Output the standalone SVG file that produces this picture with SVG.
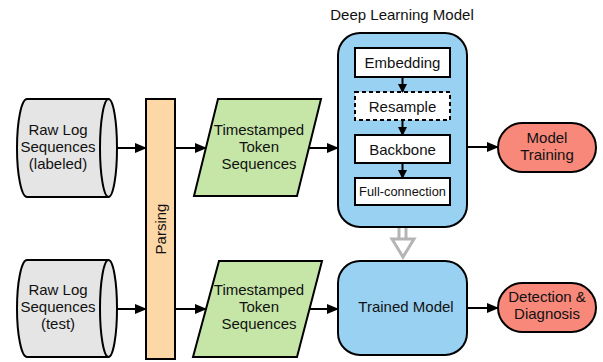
<svg xmlns="http://www.w3.org/2000/svg" width="603" height="362" viewBox="0 0 603 362">
<style>
text{font-family:"Liberation Sans",Arial,sans-serif;font-size:15px;fill:#111;text-anchor:middle}
.s{stroke:#000;stroke-width:2}
.cyl{fill:#e5e5e5}
.par{fill:#c6e6a8}
.blue{fill:#99d1f3}
.red{fill:#f8887a}
.w{fill:#fff}
.c{fill:none;stroke:#000;stroke-width:2}
</style>
<defs>
<marker id="ah" markerWidth="12" markerHeight="10" refX="11" refY="5" orient="auto" markerUnits="userSpaceOnUse">
<path d="M0,0 L12,5 L0,10 Z" fill="#000"/>
</marker>
<marker id="ahs" markerWidth="9" markerHeight="9" refX="8" refY="4.5" orient="auto" markerUnits="userSpaceOnUse">
<path d="M0,0 L9,4.5 L0,9 Z" fill="#000"/>
</marker>
</defs>
<g id="raw1">
<path class="s cyl" d="M27,99 L108,99 L108,197 L27,197 A10,49 0 0 1 27,99 Z"/>
<ellipse class="s cyl" cx="108.5" cy="148" rx="8.5" ry="49"/>
<text x="58" y="135">Raw Log</text>
<text x="58" y="152">Sequences</text>
<text x="58" y="169">(labeled)</text>
</g>
<g id="raw2">
<path class="s cyl" d="M27,260 L108,260 L108,357 L27,357 A10,48.5 0 0 1 27,260 Z"/>
<ellipse class="s cyl" cx="108.5" cy="308.5" rx="8.5" ry="48.5"/>
<text x="58" y="295">Raw Log</text>
<text x="58" y="312">Sequences</text>
<text x="58" y="329">(test)</text>
</g>
<g id="parsing">
<rect class="s" x="146" y="99" width="29" height="260" fill="#fdd7a6"/>
<text transform="translate(165.5,229) rotate(-90)">Parsing</text>
</g>
<g id="tok1">
<path class="s par" d="M218,99 L321,99 L297,196 L194,196 Z"/>
<text x="259" y="135">Timestamped</text>
<text x="259" y="152">Token</text>
<text x="259" y="169">Sequences</text>
</g>
<g id="tok2">
<path class="s par" d="M219,261 L322,261 L297,357 L193,357 Z"/>
<text x="259" y="295">Timestamped</text>
<text x="259" y="312">Token</text>
<text x="259" y="329">Sequences</text>
</g>
<g id="dlm">
<text x="402" y="20">Deep Learning Model</text>
<rect class="s blue" x="338" y="33" width="129" height="194" rx="22"/>
<g id="embedding"><rect class="s w" x="355" y="48" width="95" height="29"/><text x="402.5" y="68">Embedding</text></g>
<g id="resample"><rect class="s w" x="355" y="92" width="95" height="28" stroke-dasharray="4,3"/><text x="402.5" y="111.5">Resample</text></g>
<g id="backbone"><rect class="s w" x="355" y="135" width="95" height="28"/><text x="402.5" y="154.5">Backbone</text></g>
<g id="fc"><rect class="s w" x="355" y="178" width="95" height="27"/><text x="402.5" y="196" style="font-size:12.8px">Full-connection</text></g>
</g>
<g id="training">
<rect class="s red" x="498" y="123" width="98" height="49" rx="24.5"/>
<text x="547" y="143">Model</text>
<text x="547" y="160">Training</text>
</g>
<g id="trained">
<rect class="s blue" x="338" y="261" width="129" height="94" rx="22"/>
<text x="406" y="312">Trained Model</text>
</g>
<g id="detect">
<rect class="s red" x="498" y="283" width="98" height="49" rx="24.5"/>
<text x="547" y="302">Detection &amp;</text>
<text x="547" y="319">Diagnosis</text>
</g>
<g id="connectors">
<line class="c" x1="117" y1="148" x2="146" y2="148" marker-end="url(#ah)"/>
<line class="c" x1="117" y1="309" x2="146" y2="309" marker-end="url(#ah)"/>
<line class="c" x1="175" y1="148" x2="206" y2="148" marker-end="url(#ah)"/>
<line class="c" x1="175" y1="309" x2="206" y2="309" marker-end="url(#ah)"/>
<line class="c" x1="309" y1="148" x2="338" y2="148" marker-end="url(#ah)"/>
<line class="c" x1="310" y1="309" x2="338" y2="309" marker-end="url(#ah)"/>
<line class="c" x1="467" y1="147" x2="498" y2="147" marker-end="url(#ah)"/>
<line class="c" x1="467" y1="308" x2="498" y2="308" marker-end="url(#ah)"/>
<line class="c" x1="402.5" y1="77" x2="402.5" y2="92" marker-end="url(#ahs)"/>
<line class="c" x1="402.5" y1="120" x2="402.5" y2="135" marker-end="url(#ahs)"/>
<line class="c" x1="402.5" y1="163" x2="402.5" y2="178" marker-end="url(#ahs)"/>
<path d="M399,228 L399,239 M406,228 L406,239 M392,239 L414,239 L403,257 Z" fill="none" stroke="#b5b5b5" stroke-width="3" stroke-linejoin="miter"/>
</g>
</svg>
